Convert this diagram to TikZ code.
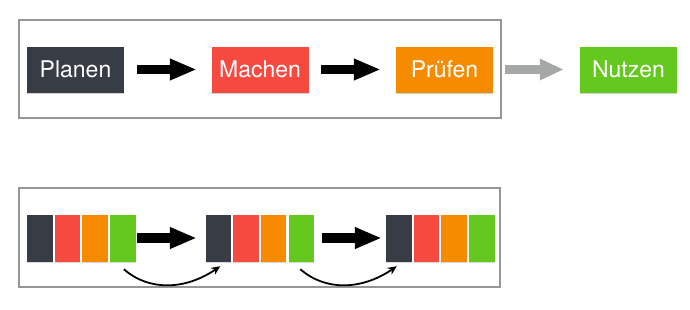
\documentclass[tikz,border=0pt]{standalone}
\usepackage{fontspec}
\setmainfont{TeX Gyre Heros}
\usetikzlibrary{calc,arrows.meta,shadows}
\definecolor{stepSlate}{RGB}{56,61,69}
\definecolor{stepRed}{RGB}{246,74,64}
\definecolor{stepOrange}{RGB}{246,139,0}
\definecolor{stepGreen}{RGB}{100,200,31}
\definecolor{frameGray}{RGB}{150,150,150}
\definecolor{arrowGray}{RGB}{166,168,168}

\tikzset{
  stepbox/.style={minimum width=97pt,minimum height=46pt,inner sep=0pt,text=white,
    font=\fontsize{23}{25}\selectfont,
    drop shadow={shadow xshift=0pt,shadow yshift=-1.5pt,opacity=.18,fill=black}},
  strip/.style={minimum width=25.5pt,minimum height=47pt,inner sep=0pt,
    drop shadow={shadow xshift=0pt,shadow yshift=-1.2pt,opacity=.15,fill=black}},
  frame/.style={draw=frameGray,line width=1.8pt,inner sep=0pt},
  fatarrow/.style={line width=9.5pt,-{Triangle[length=27pt,width=20pt]}},
  swing/.style={line width=1.8pt,-{Stealth[length=9pt,width=8pt]}}
}

\begin{document}
\begin{tikzpicture}[x=1pt,y=-1pt]
\useasboundingbox (0,0) rectangle (690,309);

% one pass: plan, make, check, then use
\node[frame,minimum width=482pt,minimum height=98pt] (oneframe) at (260,69) {};
\node[stepbox,fill=stepSlate] (plan) at (75.5,69.5) {Planen};
\node[stepbox,fill=stepRed] (make) at (260,69.5) {Machen};
\node[stepbox,fill=stepOrange] (check) at (444.5,69.5) {Prüfen};
\node[stepbox,fill=stepGreen] (use) at (628.5,69.5) {Nutzen};
\draw[fatarrow,shorten <=13pt,shorten >=14.5pt] (plan) -- (make);
\draw[fatarrow,shorten <=12.5pt,shorten >=15pt] (make) -- (check);
\draw[fatarrow,draw=arrowGray,fill=arrowGray,-{Triangle[length=24pt,width=20pt]},
  shorten <=12pt,shorten >=16pt] (check) -- (use);

% many short passes
\node[frame,minimum width=481pt,minimum height=99pt] (loopframe) at (259.5,237.5) {};
\foreach \g/\x in {1/27,2/205.5,3/386}
  \foreach \c [count=\i] in {stepSlate,stepRed,stepOrange,stepGreen}
    \node[strip,fill=\c] (g\g s\i) at ({\x+(\i-1)*27.7+12.75},238) {};
\draw[fatarrow,shorten <=1.5pt,shorten >=8.5pt] (g1s4) -- (g2s1);
\draw[fatarrow,shorten <=8pt,shorten >=4pt] (g2s4) -- (g3s1);
\draw[swing] ($(g1s4.south)+(1,7.5)$) .. controls +(25,22) and +(-35,24) .. ($(g2s1.south)+(2,4.5)$);
\draw[swing] ($(g2s4.south)+(-1,7.5)$) .. controls +(25,22) and +(-35,24) .. ($(g3s1.south)+(-2,4.5)$);
\end{tikzpicture}
\end{document}
